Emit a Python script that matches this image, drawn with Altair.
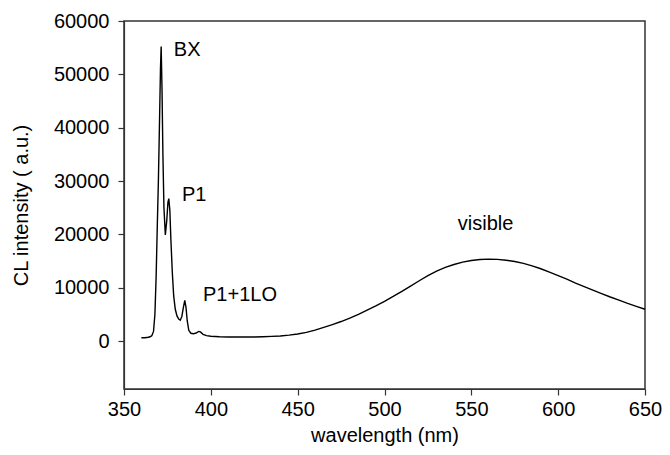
import altair as alt
import pandas as pd

wavelength = [360, 362, 364, 365, 366, 367, 367.8, 368.5, 369.2, 369.8, 370.5, 371.0, 371.4,
              371.9, 372.4, 373.0, 373.8, 374.6, 375.3, 375.8, 376.4, 377.0, 377.8, 378.6,
              379.5, 380.5, 381.5, 382.4, 383.3, 384.2, 385.0, 385.7, 386.4, 387.3, 388.5,
              390.0, 391.5, 393.0, 394.0, 395.5, 397.5, 400,
              405, 410, 415, 420, 425, 430, 435, 440, 445, 450, 455, 460, 465, 470, 475,
              480, 485, 490, 495, 500, 505, 510, 515, 520, 525, 530, 535, 540, 545, 550,
              555, 560, 565, 570, 575, 580, 585, 590, 595, 600, 605, 610, 615, 620, 625,
              630, 635, 640, 645, 650]
intensity = [600, 620, 700, 800, 1000, 1800, 5000, 12000, 22000, 30000, 42000, 51000, 55200,
             47000, 35000, 25000, 19900, 22500, 26000, 26700, 24500, 19000, 13000, 8500,
             6000, 4700, 4100, 3900, 4600, 6300, 7600, 6300, 3800, 2000, 1450,
             1350, 1500, 1800, 1700, 1250, 1000, 880,
             800, 760, 740, 740, 760, 800, 860, 950, 1100, 1320, 1620, 2050, 2550, 3080, 3650,
             4300, 5000, 5800, 6600, 7450, 8350, 9300, 10300, 11300, 12250, 13100, 13800, 14350,
             14800, 15100, 15280, 15350, 15300, 15150, 14900, 14550, 14100, 13550, 12900, 12250,
             11600, 10850, 10200, 9550, 8900, 8250, 7650, 7050, 6500, 5950]

label_text = ["BX", "P1", "P1+1LO", "visible"]
label_x = [378.7, 383.4, 395.5, 542.2]
label_y = [54600, 27350, 8580, 21900]

x_ticks = [350, 400, 450, 500, 550, 600, 650]
y_ticks = [0, 10000, 20000, 30000, 40000, 50000, 60000]

df = pd.DataFrame({"wavelength": wavelength, "intensity": intensity})
labels = pd.DataFrame({"text": label_text, "x": label_x, "y": label_y})

FONT = "Liberation Sans"

xscale = alt.Scale(domain=[350, 650], nice=False, zero=False)
yscale = alt.Scale(domain=[-9000, 60000], nice=False, zero=False)

line = alt.Chart(df).mark_line(color="black", strokeWidth=1.4).encode(
    x=alt.X("wavelength:Q", scale=xscale,
            axis=alt.Axis(title="wavelength (nm)", values=x_ticks, grid=False,
                          tickSize=6, labelPadding=4, titlePadding=6, labelFlush=False,
                          labelFontSize=20, titleFontSize=20, format="d")),
    y=alt.Y("intensity:Q", scale=yscale,
            axis=alt.Axis(title="CL intensity ( a.u.)", values=y_ticks, grid=False,
                          tickSize=6, labelPadding=9, labelFontSize=20, titleFontSize=20,
                          labelFlush=False, format="d", titleX=-93, titleY=184)),
)

text = alt.Chart(labels).mark_text(align="left", baseline="middle", fontSize=20,
                                   font=FONT, color="black").encode(
    x=alt.X("x:Q", scale=xscale),
    y=alt.Y("y:Q", scale=yscale),
    text="text:N",
)

chart = (line + text).properties(
    width=521, height=368,
    autosize=alt.AutoSizeParams(type="none"),
    padding={"left": 116, "top": 13, "right": 17, "bottom": 58},
).configure_view(
    stroke="#333", strokeWidth=1.5,
).configure_axis(
    domainColor="#333", tickColor="#333", domainWidth=1.2, tickWidth=1.2,
    labelColor="black", titleColor="black",
    labelFont=FONT, titleFont=FONT, titleFontWeight="normal",
)

chart.save("out.html", embed_options={"renderer": "svg", "actions": False})
